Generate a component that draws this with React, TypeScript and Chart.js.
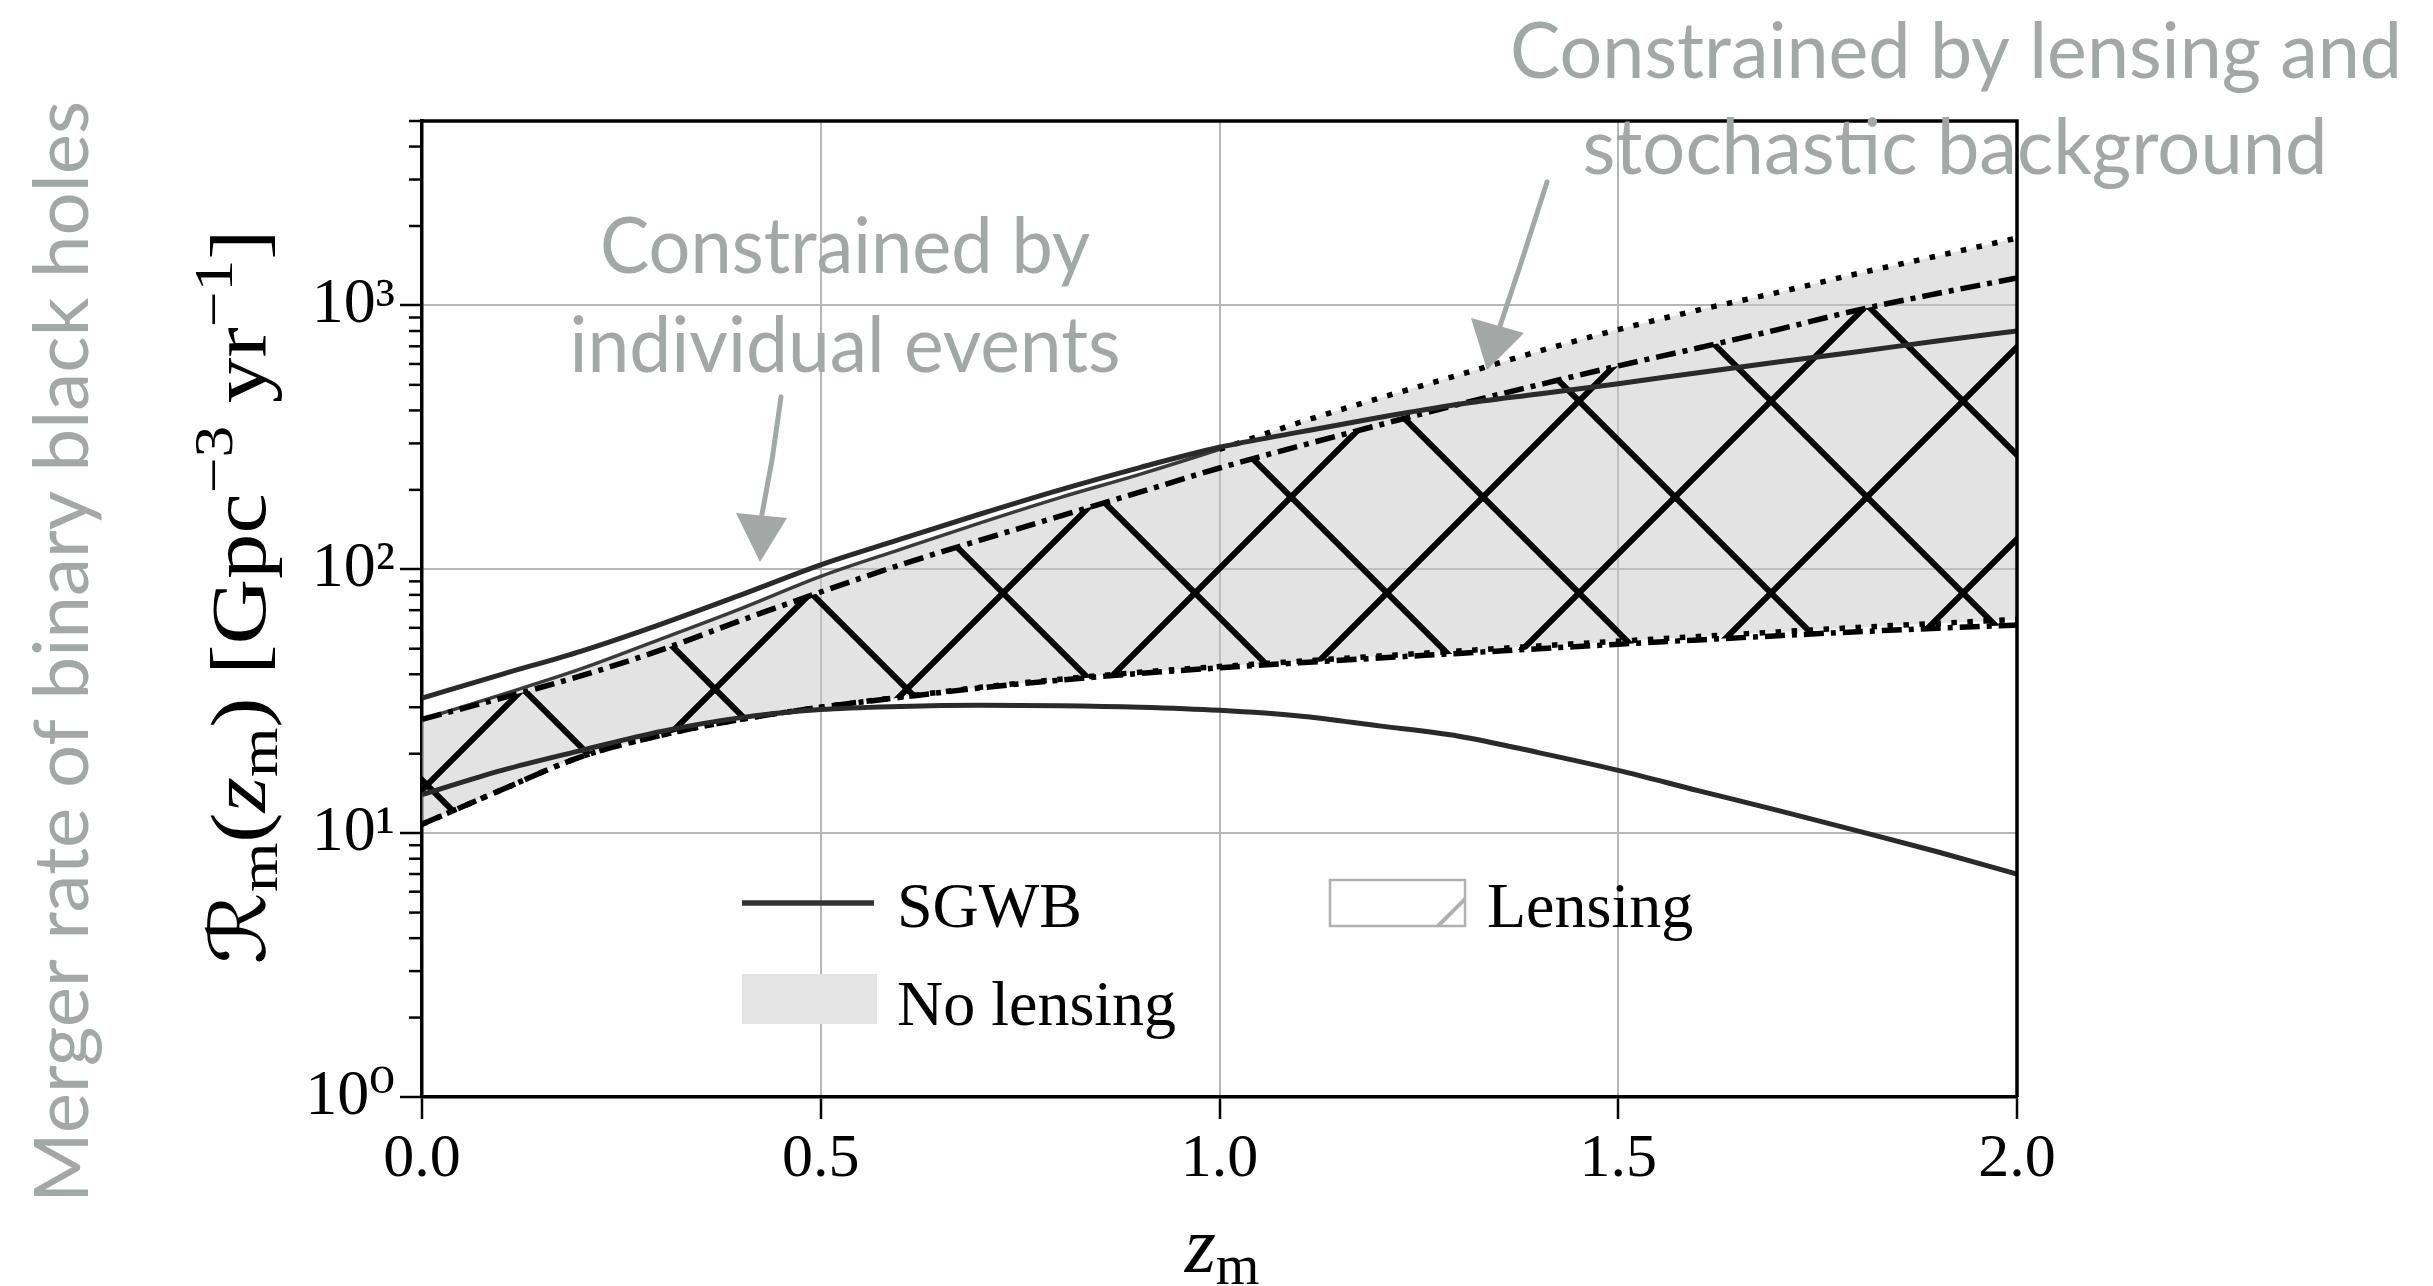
import React, { useEffect, useRef } from "react";
import { Chart, registerables } from "chart.js";

Chart.register(...registerables);

// ---------------- data ----------------
const zValues = [0, 0.1, 0.2, 0.3, 0.4, 0.5, 0.6, 0.7, 0.8, 0.9, 1.0, 1.1, 1.2, 1.3, 1.4, 1.5, 1.6, 1.7, 1.8, 1.9, 2.0];
const sgwbUpper = [32.5, 40, 49, 62, 80, 104, 130, 162, 200, 243, 290, 331, 376, 422, 462, 505, 556, 610, 668, 733, 800];
const sgwbLower = [14, 17.3, 20.6, 24.3, 27.4, 29.4, 30.2, 30.5, 30.4, 30, 29.2, 27.8, 25.5, 23.3, 20.2, 17.3, 14.5, 12.2, 10.2, 8.5, 7.0];
const lensingUpper = [27, 32.5, 39.5, 49.5, 64, 82, 104, 129, 159, 196, 242, 293, 352, 422, 500, 590, 690, 810, 960, 1110, 1270];
const lensingLower = [10.8, 14.6, 19.5, 23.5, 27, 30, 32.7, 35.5, 38, 40.3, 42.3, 44.2, 46.1, 48, 50, 52, 54, 56, 58, 59.8, 61.5];
const noLensingUpper = [27, 33.5, 42, 54.5, 71, 94, 119, 150, 187, 229, 285, 360, 445, 545, 670, 810, 960, 1120, 1320, 1540, 1800];
const noLensingLower = [10.8, 14.6, 19.5, 23.5, 27, 30, 32.8, 35.7, 38.3, 40.7, 42.8, 44.8, 46.9, 49, 51.2, 53.4, 55.6, 57.9, 60.2, 62.4, 64.5];

const xTicks = [0, 0.5, 1.0, 1.5, 2.0];
const yMajorTicks = [1, 10, 100, 1000];
const yTickLabels = ["10⁰", "10¹", "10²", "10³"];
const yMinorMultipliers = [2, 3, 4, 5, 6, 7, 8, 9];
const Y_MIN = 1;
const Y_MAX = 5000;
const X_MIN = 0;
const X_MAX = 2;

const legendLabels = ["SGWB", "No lensing", "Lensing"];
const annotationEvents = ["Constrained by", "individual events"];
const annotationLensing = ["Constrained by lensing and", "stochastic background"];
const sideLabel = "Merger rate of binary black holes";

// ---------------- styles ----------------
const W = 2433;
const H = 1286;
const SERIF = '"Liberation Serif", "DejaVu Serif", serif';
const SANS = 'Lato, "Open Sans", "DejaVu Sans", sans-serif';
const GREY_TEXT = "#a3a7a5";
const HATCH = 192;

type Run = { t: string; size: number; italic?: boolean; dy?: number; family?: string };

function fontOf(r: Run) {
  return `${r.italic ? "italic " : ""}${r.size}px ${r.family || SERIF}`;
}
function runsWidth(ctx: CanvasRenderingContext2D, runs: Run[]) {
  let w = 0;
  for (const r of runs) {
    ctx.font = fontOf(r);
    w += ctx.measureText(r.t).width;
  }
  return w;
}
function drawRuns(ctx: CanvasRenderingContext2D, runs: Run[], x: number, y: number) {
  let cx = x;
  for (const r of runs) {
    ctx.font = fontOf(r);
    ctx.fillText(r.t, cx, y + (r.dy || 0));
    cx += ctx.measureText(r.t).width;
  }
}
function fitText(
  ctx: CanvasRenderingContext2D,
  text: string,
  font: string,
  cx: number,
  baseline: number,
  target: number,
  rotate = false
) {
  ctx.save();
  ctx.font = font;
  const w = ctx.measureText(text).width;
  ctx.translate(cx, baseline);
  if (rotate) ctx.rotate(-Math.PI / 2);
  ctx.scale(target / w, 1);
  ctx.textAlign = "center";
  ctx.textBaseline = "alphabetic";
  ctx.fillText(text, 0, 0);
  ctx.restore();
}
function drawArrow(ctx: CanvasRenderingContext2D, shaft: number[][], head: number[][]) {
  ctx.save();
  ctx.strokeStyle = GREY_TEXT;
  ctx.fillStyle = GREY_TEXT;
  ctx.lineWidth = 5;
  ctx.lineCap = "round";
  ctx.beginPath();
  ctx.moveTo(shaft[0][0], shaft[0][1]);
  for (let i = 1; i < shaft.length; i++) ctx.lineTo(shaft[i][0], shaft[i][1]);
  ctx.stroke();
  ctx.beginPath();
  ctx.moveTo(head[0][0], head[0][1]);
  for (let i = 1; i < head.length; i++) ctx.lineTo(head[i][0], head[i][1]);
  ctx.closePath();
  ctx.fill();
  ctx.restore();
}

const decorations = {
  id: "decorations",
  afterDraw(chart: any) {
    const ctx: CanvasRenderingContext2D = chart.ctx;
    const a = chart.chartArea;
    const ys = chart.scales.y;
    ctx.save();

    // minor y ticks
    ctx.strokeStyle = "#000";
    ctx.lineWidth = 2.5;
    for (const d of yMajorTicks) {
      for (const m of yMinorMultipliers) {
        const v = d * m;
        if (v > Y_MAX) continue;
        const py = ys.getPixelForValue(v);
        ctx.beginPath();
        ctx.moveTo(a.left - 13, py);
        ctx.lineTo(a.left, py);
        ctx.stroke();
      }
    }

    // top and right frame
    ctx.lineWidth = 3.5;
    ctx.beginPath();
    ctx.moveTo(a.left, a.top);
    ctx.lineTo(a.right, a.top);
    ctx.lineTo(a.right, a.bottom);
    ctx.stroke();

    // legend
    ctx.fillStyle = "#000";
    ctx.textAlign = "left";
    ctx.textBaseline = "alphabetic";
    ctx.font = `64px ${SERIF}`;
    ctx.strokeStyle = "#333";
    ctx.lineWidth = 5.5;
    ctx.beginPath();
    ctx.moveTo(742, 903);
    ctx.lineTo(874, 903);
    ctx.stroke();
    ctx.fillText(legendLabels[0], 897, 927);

    ctx.fillStyle = "#e4e4e4";
    ctx.fillRect(742, 974, 135, 50);
    ctx.fillStyle = "#000";
    ctx.fillText(legendLabels[1], 897, 1025);

    const lx = 1330, ly = 880, lw = 135, lh = 46;
    ctx.save();
    ctx.beginPath();
    ctx.rect(lx, ly, lw, lh);
    ctx.clip();
    ctx.strokeStyle = "#b0b0b0";
    ctx.lineWidth = 4;
    ctx.beginPath();
    ctx.moveTo(lx + 154 - (lh + 30), ly + lh + 30);
    ctx.lineTo(lx + 154 + 30, ly - 30);
    ctx.moveTo(lx - 20, ly + 28);
    ctx.lineTo(lx + 20, ly + 68);
    ctx.stroke();
    ctx.restore();
    ctx.strokeStyle = "#b0b0b0";
    ctx.lineWidth = 2.5;
    ctx.strokeRect(lx, ly, lw, lh);
    ctx.fillStyle = "#000";
    ctx.font = `64px ${SERIF}`;
    ctx.fillText(legendLabels[2], 1487, 927);

    // axis titles
    const S = 78;
    const yRuns: Run[] = [
      { t: "ℛ", size: S, family: '"DejaVu Serif", "DejaVu Sans", serif' },
      { t: "m", size: S * 0.7, dy: S * 0.15 },
      { t: "(", size: S },
      { t: "z", size: S, italic: true },
      { t: "m", size: S * 0.7, dy: S * 0.15 },
      { t: ") [Gpc", size: S },
      { t: "−3", size: S * 0.7, dy: -S * 0.42 },
      { t: " yr", size: S },
      { t: "−1", size: S * 0.7, dy: -S * 0.42 },
      { t: "]", size: S },
    ];
    const yw = runsWidth(ctx, yRuns);
    ctx.save();
    ctx.fillStyle = "#000";
    ctx.translate(265, 597);
    ctx.rotate(-Math.PI / 2);
    ctx.scale(735 / yw, 1);
    drawRuns(ctx, yRuns, -yw / 2, 0);
    ctx.restore();

    const xRuns: Run[] = [
      { t: "z", size: 80, italic: true },
      { t: "m", size: 56, dy: 12 },
    ];
    const xw = runsWidth(ctx, xRuns);
    ctx.fillStyle = "#000";
    drawRuns(ctx, xRuns, 1222 - xw / 2, 1272);

    // grey annotations
    ctx.fillStyle = GREY_TEXT;
    const af = `78px ${SANS}`;
    fitText(ctx, annotationEvents[0], af, 845, 273, 490);
    fitText(ctx, annotationEvents[1], af, 845, 372, 551);
    fitText(ctx, annotationLensing[0], af, 1956, 78, 892);
    fitText(ctx, annotationLensing[1], af, 1955, 174, 745);
    fitText(ctx, sideLabel, `75px ${SANS}`, 88, 652, 1102, true);

    drawArrow(ctx, [[781, 397], [772, 460], [760, 525]], [[736, 513], [787, 518], [760, 562]]);
    drawArrow(ctx, [[1547, 182], [1522, 260], [1497, 335]], [[1471, 318], [1524, 333], [1487, 370]]);

    ctx.restore();
  },
};

export default function App() {
  const ref = useRef<HTMLCanvasElement>(null);
  useEffect(() => {
    document.body.style.margin = "0";
    const canvas = ref.current!;
    const ctx = canvas.getContext("2d")!;

    // hatch tile for the lensing band
    const tile = document.createElement("canvas");
    tile.width = HATCH;
    tile.height = HATCH;
    const t = tile.getContext("2d")!;
    t.strokeStyle = "#000";
    t.lineWidth = 6;
    for (const k of [-1, 0, 1]) {
      t.beginPath();
      t.moveTo(-20, -20 + k * HATCH);
      t.lineTo(HATCH + 20, HATCH + 20 + k * HATCH);
      t.stroke();
      t.beginPath();
      t.moveTo(-20, HATCH + 20 + k * HATCH);
      t.lineTo(HATCH + 20, -20 + k * HATCH);
      t.stroke();
    }
    const pattern = ctx.createPattern(tile, "repeat")!;
    pattern.setTransform(new DOMMatrix().translate(-53, 113));

    const pts = (ys: number[]) => zValues.map((x, i) => ({ x, y: ys[i] }));
    const common = { pointRadius: 0, cubicInterpolationMode: "monotone" as const };
    const DOT = [5.5, 10.5];
    const DASHDOT = [20, 7, 5, 7];

    const chart = new Chart(canvas, {
      type: "line",
      data: {
        datasets: [
          { ...common, label: "SGWB upper", data: pts(sgwbUpper), borderColor: "#2a2a2a", borderWidth: 5, fill: false },
          { ...common, label: "SGWB lower", data: pts(sgwbLower), borderColor: "#2a2a2a", borderWidth: 5, fill: false },
          {
            ...common,
            label: "Lensing upper",
            data: pts(lensingUpper),
            borderColor: "#000",
            borderWidth: 5.5,
            borderDash: DASHDOT,
            fill: "+1",
            backgroundColor: pattern as any,
          },
          { ...common, label: "Lensing lower", data: pts(lensingLower), borderColor: "#000", borderWidth: 5.5, borderDash: DASHDOT, fill: false },
          {
            ...common,
            label: "No lensing upper",
            data: pts(noLensingUpper),
            borderColor: "#000",
            borderWidth: 5.5,
            borderDash: DOT,
            fill: "+1",
            backgroundColor: "rgba(200,200,200,0.5)",
            segment: {
              borderDash: (c: any) => (c.p1.parsed.x <= 1.0001 ? [] : DOT),
              borderWidth: (c: any) => (c.p1.parsed.x <= 1.0001 ? 3.5 : 5.5),
              borderColor: (c: any) => (c.p1.parsed.x <= 1.0001 ? "#3a3a3a" : "#000"),
            },
          } as any,
          { ...common, label: "No lensing lower", data: pts(noLensingLower), borderColor: "#000", borderWidth: 5.5, borderDash: DOT, fill: false },
        ],
      },
      options: {
        responsive: false,
        animation: false,
        devicePixelRatio: 1,
        layout: { padding: { left: 0, right: 416, top: 121, bottom: 0 } },
        plugins: {
          legend: { display: false },
          tooltip: { enabled: false },
          filler: { drawTime: "beforeDatasetsDraw" } as any,
        },
        scales: {
          x: {
            type: "linear",
            min: X_MIN,
            max: X_MAX,
            afterBuildTicks: (s: any) => {
              s.ticks = xTicks.map((v) => ({ value: v }));
            },
            afterFit: (s: any) => {
              s.height = H - 1097;
            },
            ticks: {
              callback: (v: any) => Number(v).toFixed(1),
              font: { family: SERIF, size: 62 },
              color: "#000",
              padding: 4,
              maxRotation: 0,
            },
            grid: { color: "#b6b6b6", lineWidth: 2, tickColor: "#000", tickLength: 22, tickWidth: 2.5 },
            border: { color: "#000", width: 3.5 },
          },
          y: {
            type: "logarithmic",
            min: Y_MIN,
            max: Y_MAX,
            afterBuildTicks: (s: any) => {
              s.ticks = yMajorTicks.map((v) => ({ value: v }));
            },
            afterFit: (s: any) => {
              s.width = 422;
            },
            ticks: {
              callback: (v: any) => {
                const i = yMajorTicks.indexOf(Number(v));
                return i >= 0 ? yTickLabels[i] : "";
              },
              font: { family: SERIF, size: 64 },
              color: "#000",
              padding: 5,
            },
            grid: { color: "#b6b6b6", lineWidth: 2, tickColor: "#000", tickLength: 22, tickWidth: 2.5 },
            border: { color: "#000", width: 3.5 },
          },
        },
      },
      plugins: [decorations],
    });
    return () => chart.destroy();
  }, []);
  return <canvas ref={ref} width={W} height={H} style={{ display: "block", width: W + "px", height: H + "px" }} />;
}
